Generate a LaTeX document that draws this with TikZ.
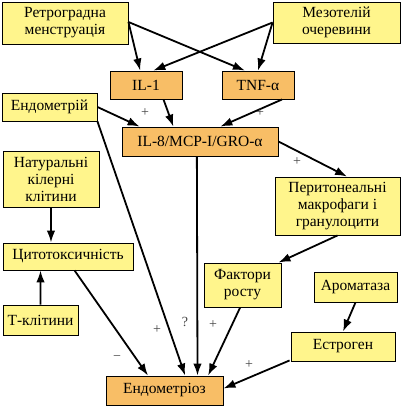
\documentclass[tikz,border=0pt]{standalone}
\usepackage{fontspec}
\setmainfont{Liberation Serif}
\usetikzlibrary{arrows.meta,calc}
\definecolor{boxyel}{HTML}{FFF58C}
\definecolor{boxora}{HTML}{F8BE66}
\definecolor{lblgray}{HTML}{444444}
\begin{document}
\begin{tikzpicture}[x=1pt,y=-1pt,
  yb/.style={draw=black,line width=0.9pt,fill=boxyel,align=center,inner sep=1pt,font=\fontsize{15.5}{17}\selectfont},
  ob/.style={draw=black,line width=0.9pt,fill=boxora,align=center,inner sep=1pt,font=\fontsize{15.5}{17}\selectfont},
  arr/.style={line width=1.8pt,-{Latex[length=12pt,width=8.5pt]}},
  lbl/.style={font=\fontsize{14}{15}\selectfont,text=lblgray,inner sep=0pt}]
\useasboundingbox (0,0) rectangle (402,407);
\node[yb,minimum width=126pt,minimum height=42pt] (ret) at (65,23) {Ретроградна\\менструація};
\node[yb,minimum width=127pt,minimum height=41pt] (mez) at (336.5,22.5) {Мезотелій\\очеревини};
\node[ob,minimum width=72pt,minimum height=28pt] (il1) at (146,85) {IL-1};
\node[ob,minimum width=72pt,minimum height=28pt] (tnf) at (258,85) {TNF-α};
\node[yb,minimum width=95pt,minimum height=28pt] (endm) at (49.5,107) {Ендометрій};
\node[ob,minimum width=156pt,minimum height=29pt] (il8) at (200,141.5) {IL-8/MCP-I/GRO-α};
\node[yb,minimum width=96pt,minimum height=56pt] (nk) at (51,179) {Натуральні\\кілерні\\клітини};
\node[yb,minimum width=130pt,minimum height=27pt] (cyto) at (68,256.5) {Цитотоксичність};
\node[yb,minimum width=125pt,minimum height=58pt] (per) at (337.5,206) {Перитонеальні\\макрофаги і\\гранулоцити};
\node[yb,minimum width=75pt,minimum height=30pt] (tcell) at (40.5,320) {Т-клітини};
\node[ob,minimum width=117pt,minimum height=29pt] (endz) at (164.5,390.5) {Ендометріоз};
\node[yb,minimum width=77pt,minimum height=44pt] (fak) at (242.5,285) {Фактори\\росту};
\node[yb,minimum width=83pt,minimum height=30pt] (arom) at (355.5,287) {Ароматаза};
\node[yb,minimum width=104pt,minimum height=29pt] (estr) at (343,346.5) {Естроген};

\draw[arr] ($(ret.east)+(0,-1)$) -- ($(il1.north west)!0.42!(il1.north east)$);
\draw[arr] ($(ret.east)+(0,-1)$) -- ($(tnf.north west)!0.32!(tnf.north east)$);
\draw[arr] (mez.west) -- ($(il1.north west)!0.6!(il1.north east)$);
\draw[arr] (mez.west) -- (tnf.north);
\draw[arr] ($(il1.south west)!0.74!(il1.south east)$) -- ($(il8.north west)!0.33!(il8.north east)$);
\draw[arr] ($(tnf.south west)!0.83!(tnf.south east)$) -- ($(il8.north west)!0.63!(il8.north east)$);
\draw[arr] (endm.east) -- ($(il8.north west)!0.115!(il8.north east)$);
\draw[arr] (endm.south east) -- ($(endz.north west)!0.675!(endz.north east)$);
\draw[arr] ($(il8.south west)!0.48!(il8.south east)$) -- ($(endz.north west)!0.78!(endz.north east)$);
\draw[arr] (il8.east) -- ($(per.north west)!0.576!(per.north east)$);
\draw[arr] (per.south) -- ($(fak.north east)+(-3,0)$);
\draw[arr] (nk.south) -- ($(cyto.north west)!0.37!(cyto.north east)$);
\draw[arr] (tcell.north) -- ($(cyto.south west)!0.29!(cyto.south east)$);
\draw[arr] ($(cyto.south west)!0.55!(cyto.south east)$) -- ($(endz.north west)!0.36!(endz.north east)$);
\draw[arr] ($(fak.south west)!0.47!(fak.south east)$) -- ($(endz.north west)!0.87!(endz.north east)$);
\draw[arr] (arom.south) -- (estr.north);
\draw[arr] ($(estr.south west)+(-1,-1)$) -- ($(endz.east)+(0,-2)$);

\node[lbl] (p1) at (145,113) {+};
\node[lbl] (p2) at (260,113) {+};
\node[lbl] (p3) at (297,162) {+};
\node[lbl] (p4) at (157,330) {+};
\node[lbl] (q1) at (185,322) {?};
\node[lbl] (m1) at (117,358) {−};
\node[lbl] (p5) at (213,325) {+};
\node[lbl] (p6) at (249,365) {+};
\end{tikzpicture}
\end{document}
